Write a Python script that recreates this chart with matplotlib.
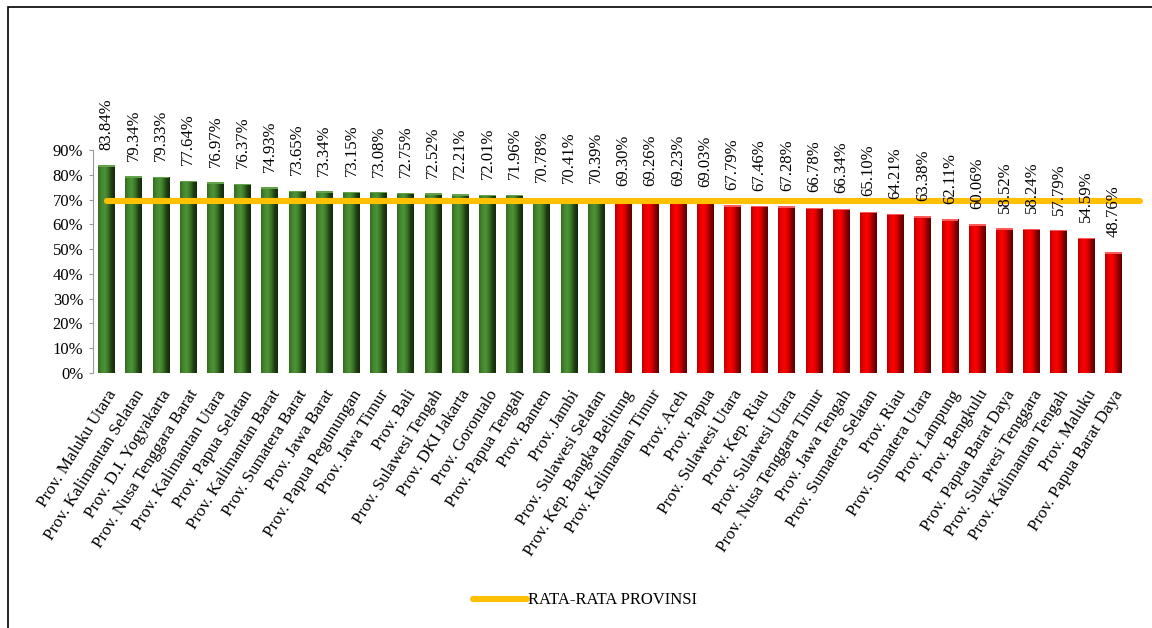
import numpy as np
import matplotlib
matplotlib.use("Agg")
import matplotlib.pyplot as plt
from matplotlib.patches import Rectangle
from matplotlib.colors import LinearSegmentedColormap

plt.rcParams['font.family'] = ['Liberation Serif', 'DejaVu Serif']

provinsi = [
    "Prov. Maluku Utara", "Prov. Kalimantan Selatan", "Prov. D.I. Yogyakarta",
    "Prov. Nusa Tenggara Barat", "Prov. Kalimantan Utara", "Prov. Papua Selatan",
    "Prov. Kalimantan Barat", "Prov. Sumatera Barat", "Prov. Jawa Barat",
    "Prov. Papua Pegunungan", "Prov. Jawa Timur", "Prov. Bali",
    "Prov. Sulawesi Tengah", "Prov. DKI Jakarta", "Prov. Gorontalo",
    "Prov. Papua Tengah", "Prov. Banten", "Prov. Jambi", "Prov. Sulawesi Selatan",
    "Prov. Kep. Bangka Belitung", "Prov. Kalimantan Timur", "Prov. Aceh",
    "Prov. Papua", "Prov. Sulawesi Utara", "Prov. Kep. Riau",
    "Prov. Sulawesi Utara", "Prov. Nusa Tenggara Timur", "Prov. Jawa Tengah",
    "Prov. Sumatera Selatan", "Prov. Riau", "Prov. Sumatera Utara",
    "Prov. Lampung", "Prov. Bengkulu", "Prov. Papua Barat Daya",
    "Prov. Sulawesi Tenggara", "Prov. Kalimantan Tengah", "Prov. Maluku",
    "Prov. Papua Barat Daya",
]
nilai = [
    83.84, 79.34, 79.33, 77.64, 76.97, 76.37, 74.93, 73.65, 73.34, 73.15,
    73.08, 72.75, 72.52, 72.21, 72.01, 71.96, 70.78, 70.41, 70.39,
    69.30, 69.26, 69.23, 69.03, 67.79, 67.46, 67.28, 66.78, 66.34, 65.10,
    64.21, 63.38, 62.11, 60.06, 58.52, 58.24, 57.79, 54.59, 48.76,
]
rata_rata = 69.4

green_cmap = LinearSegmentedColormap.from_list(
    "g", ["#35691f", "#45882f", "#4e9436", "#3a7426", "#1f4013", "#142a0c"])
red_cmap = LinearSegmentedColormap.from_list(
    "r", ["#b80000", "#ec0000", "#ff0000", "#d40000", "#8a0000", "#5a0000"])

fig = plt.figure(figsize=(11.52, 6.28), dpi=100)
ax = fig.add_axes([0.0807, 0.406, 0.8975, 0.355])

x = np.arange(len(nilai))
vals = np.array(nilai) / 100
bars = ax.bar(x, vals, width=0.62, color='none', edgecolor='none')
grad = np.linspace(0, 1, 64).reshape(1, -1)
for xi, v, b in zip(x, vals, bars):
    cmap = green_cmap if nilai[xi] >= rata_rata else red_cmap
    im = ax.imshow(grad, cmap=cmap, aspect='auto', interpolation='bicubic',
                   extent=(b.get_x(), b.get_x() + b.get_width(), 0, v), zorder=2)
    im.set_clip_path(b)
    # lighter top cap
    cap = '#62a34a' if nilai[xi] >= rata_rata else '#ff5a5a'
    ax.add_patch(Rectangle((b.get_x(), v - 0.006), b.get_width(), 0.006,
                           color=cap, zorder=3, lw=0))
    ax.text(xi, v + 0.062, f"{nilai[xi]:.2f}%", rotation=90, ha='center',
            va='bottom', fontsize=12, zorder=5)

ax.plot([x[0], x[-1] + 1], [rata_rata / 100] * 2, color='#FFC000', lw=4.4,
        solid_capstyle='round', zorder=4, clip_on=False,
        label='RATA-RATA PROVINSI')

ax.set_xlim(-0.5, len(nilai) - 0.5)
ax.set_ylim(0, 0.9)
ax.set_yticks(np.arange(0, 0.91, 0.1))
ax.set_yticklabels([f"{int(round(t * 100))}%" for t in np.arange(0, 0.91, 0.1)],
                   fontsize=12)
ax.set_xticks(x)
ax.set_xticklabels(provinsi, rotation=58, ha='right', rotation_mode='anchor',
                   fontsize=12.3)
ax.tick_params(axis='x', length=0, pad=10)
ax.tick_params(axis='y', length=3, color='#999999', pad=4)
for s in ['top', 'right', 'bottom']:
    ax.spines[s].set_visible(False)
ax.spines['left'].set_color('#999999')

fig.legend(loc='center', bbox_to_anchor=(0.508, 0.044), frameon=False,
           fontsize=12, handlelength=3.2, handletextpad=0.1)

fig.patches.append(Rectangle((8 / 1152, -0.05), 1.2, 1 - 7 / 628 + 0.05,
                             transform=fig.transFigure, fill=False,
                             edgecolor='black', lw=1.2))

fig.savefig("out.png", dpi=100)
